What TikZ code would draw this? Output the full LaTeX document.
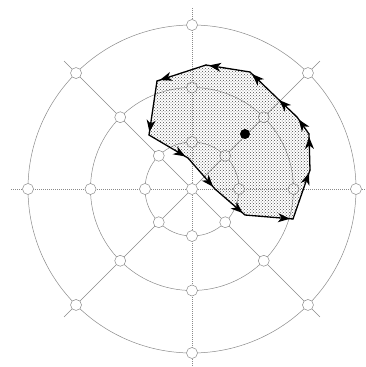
\documentclass[tikz,border=0pt]{standalone}
\usepackage{xcolor}
\usepackage{tikz}
\usetikzlibrary{arrows.meta,calc,patterns,decorations.markings}
\definecolor{gridgrey}{HTML}{8A8A8A}
\tikzset{
  grid ray/.style    = {gridgrey, line width=0.5pt},
  axis ray/.style    = {grid ray, dash pattern=on 1pt off 1pt},
  ring/.style        = {gridgrey, line width=0.5pt},
  grid vertex/.style = {circle, draw=gridgrey, fill=white, inner sep=0pt,
                        minimum size=11pt, line width=0.5pt},
  region/.style      = {pattern=crosshatch dots, pattern color=black!70},
  walk/.style        = {line width=1.3pt, line cap=round, postaction={decorate},
                        decoration={markings, mark=at position -3pt with
                          {\arrow{Stealth[length=12pt,width=9pt,inset=3.5pt]}}}},
  seed/.style        = {circle, fill=black, inner sep=0pt, minimum size=10pt},
}

\begin{document}
\begin{tikzpicture}[x=1pt, y=1pt]
    \useasboundingbox (-192,-178) rectangle (174,189);
    \coordinate (c) at (0,0);
    \foreach \a in {0,45,...,315} {
      \coordinate (e\a) at (\a:181);
    }
    % the polar grid
    \foreach \a in {0,90,180,270} \draw[axis ray] (c) -- (e\a);
    \foreach \a in {45,135,225,315} \draw[grid ray] (c) -- (e\a);
    \foreach \r in {47,101.5,164} \draw[ring] (c) circle (\r);
    \node[grid vertex] (v0) at (c) {};
    \foreach \a in {0,45,...,315} {
      \node[grid vertex] (v1-\a) at (\a:47) {};
      \node[grid vertex] (v2-\a) at (\a:101.5) {};
      \node[grid vertex] (v3-\a) at (\a:164) {};
    }
    % boundary of the region
    \coordinate (b1) at (-35,108);
    \coordinate (b2) at (-43,54);
    \coordinate (b3) at (-4,31);
    \coordinate (b4) at (23,0);
    \coordinate (b5) at (53,-26);
    \coordinate (b6) at (101,-30);
    \coordinate (b7) at (118,19);
    \coordinate (b8) at (117,55);
    \coordinate (b9) at (105,72);
    \coordinate (b10) at (85,91);
    \coordinate (b11) at (58,117);
    \coordinate (b12) at (14,124);
    \fill[region] (b1) -- (b2) -- (b3) -- (b4) -- (b5) -- (b6) -- (b7)
      -- (b8) -- (b9) -- (b10) -- (b11) -- (b12) -- cycle;
    \foreach \p/\q in {b1/b2,b2/b3,b3/b4,b4/b5,b5/b6,b6/b7,b7/b8,b8/b9,
                       b9/b10,b10/b11,b11/b12,b12/b1}
      \draw[walk] (\p) -- (\q);
    \node[seed] (s) at (53,55) {};
\end{tikzpicture}
\end{document}
